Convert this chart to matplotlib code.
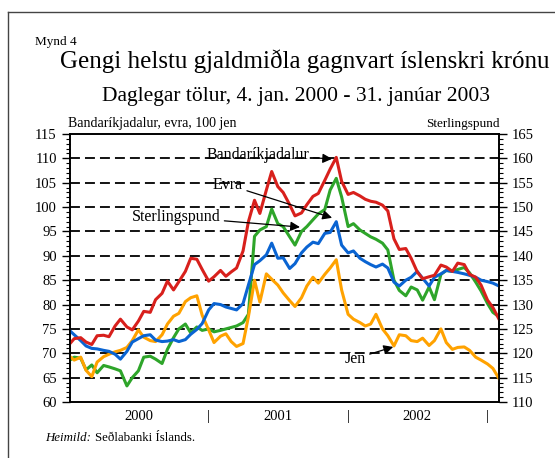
import pandas as pd
import matplotlib
matplotlib.use("Agg")
import matplotlib.pyplot as plt
from matplotlib.lines import Line2D

plt.rcParams["font.family"] = ["Liberation Serif", "DejaVu Serif"]

# Semi-monthly readings
dates = pd.to_datetime([
    "2000-01-04", "2000-01-15", "2000-02-01", "2000-02-15", "2000-03-01", "2000-03-15",
    "2000-04-01", "2000-04-15", "2000-05-01", "2000-05-15", "2000-06-01", "2000-06-15",
    "2000-07-01", "2000-07-15", "2000-08-01", "2000-08-15", "2000-09-01", "2000-09-15",
    "2000-10-01", "2000-10-15", "2000-11-01", "2000-11-15", "2000-12-01", "2000-12-15",
    "2001-01-01", "2001-01-15", "2001-02-01", "2001-02-15", "2001-03-01", "2001-03-15",
    "2001-04-01", "2001-04-15", "2001-05-01", "2001-05-15", "2001-06-01", "2001-06-15",
    "2001-07-01", "2001-07-15", "2001-08-01", "2001-08-15", "2001-09-01", "2001-09-15",
    "2001-10-01", "2001-10-15", "2001-11-01", "2001-11-15", "2001-12-01", "2001-12-15",
    "2002-01-01", "2002-01-15", "2002-02-01", "2002-02-15", "2002-03-01", "2002-03-15",
    "2002-04-01", "2002-04-15", "2002-05-01", "2002-05-15", "2002-06-01", "2002-06-15",
    "2002-07-01", "2002-07-15", "2002-08-01", "2002-08-15", "2002-09-01", "2002-09-15",
    "2002-10-01", "2002-10-15", "2002-11-01", "2002-11-15", "2002-12-01", "2002-12-15",
    "2003-01-01", "2003-01-15", "2003-01-31",
])

# Bandaríkjadalur (left axis)
usd = [72.0, 73.0, 73.2, 72.3, 71.8, 73.6, 73.7, 73.4, 75.6, 77.0, 75.4, 74.8,
       76.6, 78.6, 78.4, 81.0, 82.3, 84.8, 83.0, 84.7, 86.8, 89.5, 89.3, 87.2,
       84.8, 85.7, 87.0, 85.8, 86.7, 87.5, 91.0, 97.0, 101.4, 98.7, 103.5, 107.3,
       104.2, 103.0, 100.5, 98.2, 98.8, 100.5, 102.2, 102.8, 105.5, 107.8, 110.2, 105.3,
       102.6, 103.0, 102.3, 101.6, 101.2, 101.0, 100.4, 99.2, 93.5, 91.3, 91.5, 89.5,
       86.7, 85.3, 85.7, 86.0, 88.1, 87.7, 86.8, 88.5, 88.2, 86.2, 85.6, 84.0,
       80.9, 79.4, 77.0]

# Evra (left axis)
eur = [74.6, 73.8, 72.6, 71.5, 71.0, 70.9, 70.6, 70.4, 69.8, 68.8, 70.4, 72.3,
       73.0, 73.6, 73.8, 72.7, 72.4, 72.5, 72.8, 72.4, 72.8, 73.9, 74.9, 76.1,
       78.9, 80.2, 80.0, 79.5, 79.2, 78.9, 80.2, 84.0, 88.2, 89.0, 90.2, 92.6,
       89.5, 89.6, 87.4, 88.4, 90.6, 91.8, 92.8, 92.5, 94.6, 94.8, 97.0, 92.2,
       90.6, 91.0, 89.5, 88.8, 88.2, 87.7, 88.3, 87.5, 84.6, 83.8, 85.0, 85.6,
       86.8, 85.4, 83.8, 85.6, 86.3, 87.0, 86.8, 86.6, 86.3, 86.0, 85.6, 85.0,
       84.7, 84.4, 83.8]

# 100 jen (left axis)
jpy = [69.3, 68.6, 69.2, 66.5, 65.2, 68.2, 69.3, 69.8, 70.3, 70.6, 71.2, 72.6,
       74.8, 73.3, 72.6, 72.4, 73.8, 76.0, 77.6, 78.2, 80.6, 81.4, 81.8, 77.8,
       74.8, 72.2, 73.5, 74.0, 72.4, 71.4, 72.0, 77.5, 85.0, 80.5, 86.3, 85.2,
       84.0, 82.4, 80.8, 79.6, 81.4, 83.8, 85.6, 84.4, 86.2, 87.5, 89.2, 83.0,
       78.0, 77.0, 76.3, 75.6, 76.0, 78.0, 75.0, 73.6, 71.5, 73.8, 73.6, 72.6,
       72.4, 73.1, 71.6, 72.6, 75.0, 72.2, 70.8, 71.2, 71.3, 70.6, 69.2, 68.6,
       67.8, 66.9, 64.8]

# Sterlingspund (right axis)
gbp = [118.6, 119.2, 119.0, 116.6, 117.6, 116.0, 117.5, 117.2, 116.8, 116.4, 113.3, 115.0,
       116.4, 119.2, 119.4, 118.8, 117.9, 120.8, 123.2, 125.0, 126.0, 124.2, 125.4, 124.7,
       125.0, 124.4, 124.7, 125.0, 125.3, 125.6, 126.3, 128.0, 144.0, 145.3, 146.0, 149.6,
       146.6, 146.0, 143.9, 142.2, 145.0, 146.0, 147.4, 148.6, 149.5, 153.5, 155.9, 152.1,
       146.0, 146.6, 145.3, 144.6, 143.9, 143.4, 142.6, 141.2, 135.0, 132.9, 131.8, 133.6,
       133.0, 130.9, 133.6, 131.0, 136.2, 137.0, 136.8, 137.2, 137.6, 136.5, 134.6, 132.8,
       130.2, 128.4, 127.5]

red = "#d8201c"
green = "#2ea52a"
blue = "#0a64d2"
orange = "#ffa200"

fig = plt.figure(figsize=(5.55, 4.58), dpi=100)
ax2 = fig.add_axes([70 / 555, 1 - 402 / 458, 429 / 555, 268 / 458])
ax = ax2.twinx()
ax.set_zorder(ax2.get_zorder() + 1)
ax.patch.set_visible(False)

x0 = pd.Timestamp("2000-01-04")
x1 = pd.Timestamp("2003-01-31")

# right axis: grid + pound
for v in range(115, 165, 5):
    ax2.axhline(v, color="black", lw=1.3, ls=(0, (5.5, 2.8)), zorder=1)
ax2.plot(dates, gbp, color=green, lw=2.2, zorder=3)
ax2.set_ylim(110, 165)
ax2.set_xlim(x0, x1)

ax.plot(dates, jpy, color=orange, lw=2.2)
ax.plot(dates, eur, color=blue, lw=2.2)
ax.plot(dates, usd, color=red, lw=2.2)
ax.set_ylim(60, 115)

# left axis on ax, right axis on ax2
ax.yaxis.tick_left()
ax2.yaxis.tick_right()
for a in (ax, ax2):
    a.yaxis.set_major_locator(plt.MultipleLocator(5))
    a.yaxis.set_minor_locator(plt.MultipleLocator(1))
    a.tick_params(axis="y", which="major", length=6, width=1, labelsize=10.5, direction="out")
    a.tick_params(axis="y", which="minor", length=3, width=0.8, direction="out")
    for s in a.spines.values():
        s.set_linewidth(1.2)

# x axis: year labels at mid-year, bars at year boundaries
ax2.set_xticks(pd.to_datetime(["2000-07-01", "2001-07-01", "2002-07-01"]))
ax2.set_xticklabels(["2000", "2001", "2002"])
ax2.set_xticks(pd.to_datetime(["2001-01-01", "2002-01-01", "2003-01-01"]), minor=True)
ax2.set_xticklabels(["|", "|", "|"], minor=True)
ax2.tick_params(axis="x", which="both", length=0, labelsize=10.5, pad=6)
ax.tick_params(axis="x", which="both", length=0, labelbottom=False)

# annotations
arrow = dict(arrowstyle="-|>", color="black", lw=0.9, mutation_scale=14, shrinkA=1, shrinkB=0)
ax.annotate("Bandaríkjadalur", xy=(pd.Timestamp("2001-11-20"), 109.9),
            xytext=(pd.Timestamp("2001-05-10"), 110.7), fontsize=11.5,
            ha="center", va="center", arrowprops=arrow)
ax.annotate("Evra", xy=(pd.Timestamp("2001-11-20"), 97.8),
            xytext=(pd.Timestamp("2001-02-20"), 104.6), fontsize=11.5,
            ha="center", va="center", arrowprops=arrow)
ax.annotate("Sterlingspund", xy=(pd.Timestamp("2001-08-28"), 95.9),
            xytext=(pd.Timestamp("2000-10-07"), 98.0), fontsize=11.5,
            ha="center", va="center", arrowprops=arrow)
ax.annotate("Jen", xy=(pd.Timestamp("2002-04-29"), 71.3),
            xytext=(pd.Timestamp("2002-01-19"), 68.9), fontsize=11.5,
            ha="center", va="center", arrowprops=arrow)

# texts
fig.text(35 / 555, 1 - 42 / 458, "Mynd 4", fontsize=9.5, va="center", ha="left")
fig.text(305 / 555, 1 - 61 / 458, "Gengi helstu gjaldmiðla gagnvart íslenskri krónu",
         fontsize=18, ha="center", va="center")
fig.text(296 / 555, 1 - 97 / 458, "Daglegar tölur, 4. jan. 2000 - 31. janúar 2003",
         fontsize=15.5, ha="center", va="center")
fig.text(68 / 555, 1 - 124 / 458, "Bandaríkjadalur, evra, 100 jen", fontsize=10,
         ha="left", va="center")
fig.text(500 / 555, 1 - 124 / 458, "Sterlingspund", fontsize=9.5, ha="right", va="center")
fig.text(45 / 555, 1 - 438 / 458, "Heimild:", fontsize=9.3, style="italic",
         ha="left", va="center")
fig.text(95 / 555, 1 - 438 / 458, "Seðlabanki Íslands.", fontsize=9.3,
         ha="left", va="center")

# outer frame (left and top edges)
fig.add_artist(Line2D([7.5 / 555, 7.5 / 555], [0, 1 - 11.5 / 458], color="#444444", lw=1))
fig.add_artist(Line2D([7.5 / 555, 1], [1 - 11.5 / 458, 1 - 11.5 / 458], color="#444444", lw=1))

fig.savefig("out.png", dpi=100)
